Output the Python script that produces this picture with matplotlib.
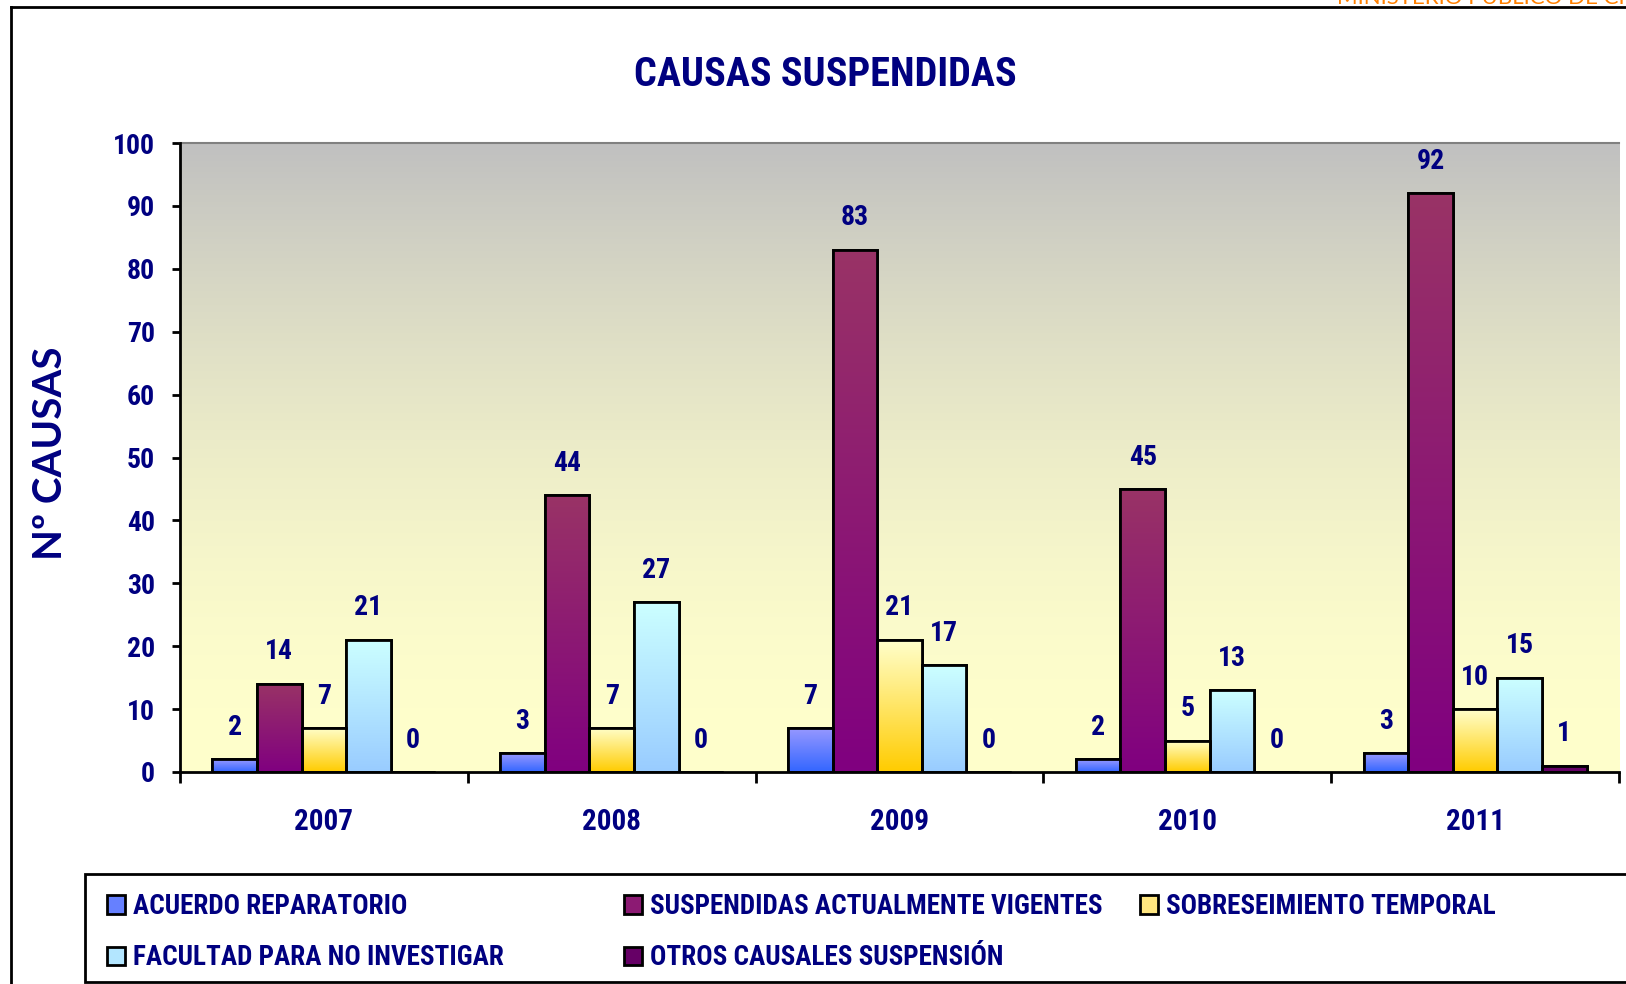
import numpy as np
import matplotlib.pyplot as plt
from matplotlib.lines import Line2D
from matplotlib.patches import Rectangle
from matplotlib.colors import to_rgb

# datos
years = ['2007', '2008', '2009', '2010', '2011']
series = ['ACUERDO REPARATORIO', 'SUSPENDIDAS ACTUALMENTE VIGENTES',
          'SOBRESEIMIENTO TEMPORAL', 'FACULTAD PARA NO INVESTIGAR',
          'OTROS CAUSALES SUSPENSIÓN']
acuerdo = [2, 3, 7, 2, 3]
vigentes = [14, 44, 83, 45, 92]
sobreseimiento = [7, 7, 21, 5, 10]
facultad = [21, 27, 17, 13, 15]
otros = [0, 0, 0, 0, 1]
values = [acuerdo, vigentes, sobreseimiento, facultad, otros]

# colores (arriba, abajo) del degradado de cada serie
grad_top = ['#9999ff', '#993366', '#ffffcc', '#ccffff', '#660066']
grad_bot = ['#3366ff', '#800080', '#ffcc00', '#99ccff', '#660066']
mid = ['#6680ff', '#8c1a73', '#ffe680', '#b3e6ff', '#660066']

navy = '#000080'
narrow = ['Roboto Condensed', 'Roboto', 'DejaVu Sans']
wide = ['Lato', 'DejaVu Sans']

W, H = 1626, 984
fig = plt.figure(figsize=(W / 100, H / 100), dpi=100)
ax = fig.add_axes([180 / W, 1 - 772 / H, 1439 / W, 629 / H])

# fondo degradado gris -> amarillo
t = np.linspace(1, 0, 256)[:, None]
gray = np.array(to_rgb('#c0c0c0'))
yel = np.array(to_rgb('#ffffcc'))
bg = yel + (gray - yel) * (t ** 1.8)[:, :, None]
ax.imshow(bg.reshape(256, 1, 3), extent=[0, 1, 0, 1], transform=ax.transAxes,
          aspect='auto', zorder=0)

x = np.arange(len(years))
bw = 0.155
containers = []
for i, vals in enumerate(values):
    pos = x + (i - 2) * bw
    bars = ax.bar(pos, vals, bw, color=mid[i], edgecolor='black', linewidth=2,
                  zorder=2, label=series[i])
    containers.append(bars)
    c1 = np.array(to_rgb(grad_top[i]))
    c2 = np.array(to_rgb(grad_bot[i]))
    g = np.linspace(0, 1, 128)[:, None, None]
    img = c1 + (c2 - c1) * g
    for p, v in zip(bars.patches, vals):
        if v <= 0:
            continue
        im = ax.imshow(img, extent=[p.get_x(), p.get_x() + p.get_width(), 0, v],
                       aspect='auto', zorder=2.1)
        im.set_clip_path(p)
    ax.bar(pos, vals, bw, color='none', edgecolor='black', linewidth=2, zorder=3)
    for px, v in zip(pos, vals):
        ax.annotate(str(v), (px, v), xytext=(0, 23), textcoords='offset points',
                    ha='center', va='center', fontsize=20, fontweight='bold',
                    color=navy, family=narrow, zorder=4)

ax.set_xlim(-0.5, len(years) - 0.5)
ax.set_ylim(0, 100)
ax.set_yticks(np.arange(0, 101, 10))
ax.set_xticks(x)
ax.set_xticklabels(years)
ax.set_xticks(np.arange(-0.5, len(years), 1), minor=True)
ax.tick_params(axis='x', which='major', length=0, pad=26, labelsize=21,
               labelcolor=navy)
ax.tick_params(axis='x', which='minor', length=8, width=2, direction='out')
ax.tick_params(axis='y', length=6, width=2, pad=12, labelsize=20,
               labelcolor=navy)
for lab in ax.get_xticklabels() + ax.get_yticklabels():
    lab.set_fontweight('bold')
    lab.set_family(narrow)

for s in ['left', 'bottom']:
    ax.spines[s].set_linewidth(2)
    ax.spines[s].set_zorder(5)
ax.spines['top'].set_color('#808080')
ax.spines['top'].set_linewidth(1.5)
ax.spines['right'].set_visible(False)

fig.text(825 / W, 1 - 75 / H, 'CAUSAS SUSPENDIDAS', ha='center', va='center',
         fontsize=29, fontweight='bold', color=navy, family=narrow)
fig.text(50 / W, 1 - 453 / H, 'Nº CAUSAS', rotation=90, ha='center',
         va='center', fontsize=29, fontweight='bold', color=navy, family=wide)
fig.text(1337 / W, 1 - 4 / H, 'MINISTERIO PUBLICO DE CHILE', ha='left',
         va='baseline', fontsize=16, color='#ff8000', family=wide)

# marco exterior
fig.add_artist(Line2D([11 / W, 11 / W], [0, 1 - 7 / H], color='black', lw=2))
fig.add_artist(Line2D([11 / W, 1], [1 - 7 / H, 1 - 7 / H], color='black', lw=2))

# leyenda
fig.add_artist(Rectangle((85 / W, 1 - 982 / H), 1 - 85 / W + 0.01, 108 / H,
                         transform=fig.transFigure, facecolor='white',
                         edgecolor='black', lw=2))
cols = [[0, 3], [1, 4], [2]]
col_x = [107, 624, 1140]
for idx, cx in zip(cols, col_x):
    fig.legend([containers[k] for k in idx], [series[k] for k in idx],
               loc='upper left', bbox_to_anchor=(cx / W, 1 - 893 / H),
               frameon=False, borderpad=0, borderaxespad=0, handlelength=0.65,
               handleheight=0.65, handletextpad=0.3, labelspacing=0.9,
               prop={'family': narrow, 'weight': 'bold', 'size': 19.5},
               labelcolor=navy)

fig.savefig('out.png', dpi=100)
